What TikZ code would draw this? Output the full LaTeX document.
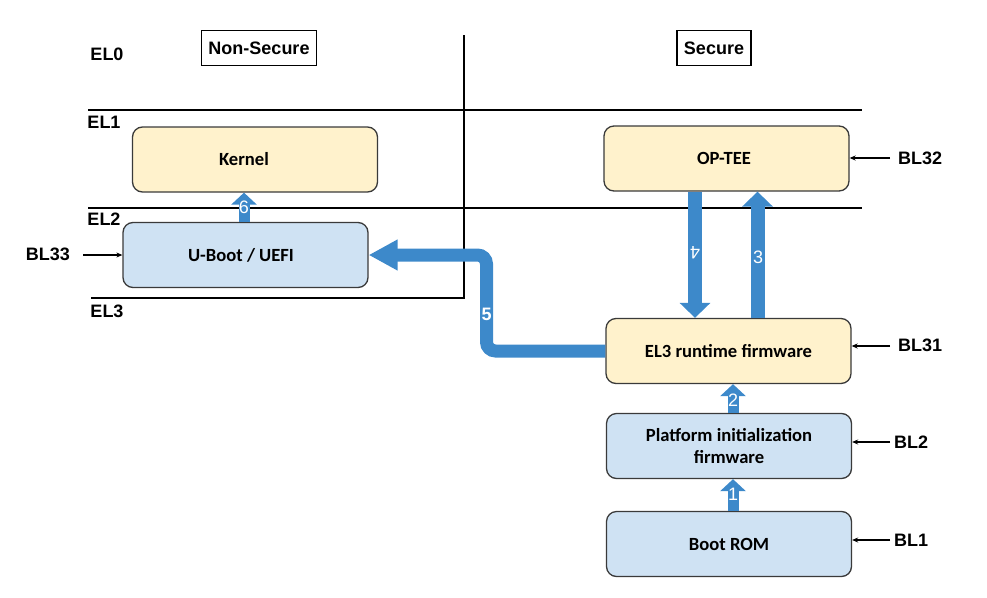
\documentclass[tikz,border=0pt]{standalone}
\usepackage{fontspec}
\setmainfont{Liberation Sans}
\newfontfamily\boxfont{Carlito}
\usetikzlibrary{arrows.meta}
\definecolor{boxyellow}{HTML}{FFF2CC}
\definecolor{boxblue}{HTML}{CFE2F3}
\definecolor{arrowblue}{HTML}{3D89CA}
\definecolor{boxline}{HTML}{3A3A3A}
\tikzset{
  blk/.style={draw=boxline, line width=1.3pt, rounded corners=10pt, minimum width=245pt, minimum height=65pt, inner sep=0pt, align=center, font=\boxfont\bfseries\fontsize{18.6}{22}\selectfont, text=black},
  ybox/.style={blk, fill=boxyellow},
  bbox/.style={blk, fill=boxblue},
  lvl/.style={font=\bfseries\fontsize{18}{21}\selectfont, inner sep=0pt},
  elline/.style={line width=2.6pt, black},
  thin/.style={line width=1.2pt, -{Stealth[length=6pt,width=5pt]}},
  bigarrow/.style={line width=14pt, arrowblue, -{Triangle[length=15pt,width=30pt]}},
  smallarrow/.style={line width=11pt, arrowblue, -{Triangle[length=12pt,width=25pt]}},
  num/.style={text=white, font=\fontsize{18}{21}\selectfont, inner sep=0pt},
  title/.style={draw, line width=1.5pt, font=\bfseries\fontsize{18}{21}\selectfont, inner xsep=7pt, inner ysep=0pt, minimum height=35pt}
}
\begin{document}
\begin{tikzpicture}[x=1pt,y=-1pt]
\useasboundingbox (0,0) rectangle (987,597);
% level lines
\draw[elline] (88,110) -- (862,110);
\draw[elline] (88,208) -- (862,208);
\draw[elline] (91,298) -- (464,298) -- (464,35);
% level labels
\node[lvl] (el0) at (107,54) {EL0};
\node[lvl] (el1) at (104,122) {EL1};
\node[lvl] (el2) at (104,219) {EL2};
\node[lvl] (el3) at (107,311) {EL3};
% titles
\node[title] (ns) at (259,48) {Non-Secure};
\node[title] (sec) at (714,48) {Secure};
% boxes
\node[ybox] (kernel) at (255,159.5) {\hspace*{-22pt}Kernel};
\node[bbox] (uboot) at (245.5,255) {\hspace*{-9pt}U-Boot / UEFI};
\node[ybox] (optee) at (726.5,158.5) {\hspace*{-5pt}OP-TEE};
\node[ybox] (rt) at (728.5,351) {EL3 runtime firmware};
\node[bbox] (plat) at (729,446) {Platform initialization\\firmware};
\node[bbox] (rom) at (729,544) {Boot ROM};
% BL labels
\node[lvl] (bl33) at (48,254) {BL33};
\node[lvl] (bl32) at (920,158) {BL32};
\node[lvl] (bl31) at (920,345) {BL31};
\node[lvl] (bl2) at (911,442) {BL2};
\node[lvl] (bl1) at (911,540) {BL1};
\coordinate (c33) at (83,255);
\coordinate (c32) at (890,158);
\coordinate (c31) at (890,346);
\coordinate (c2) at (890,442);
\coordinate (c1) at (890,540);
\draw[thin] (c33) -- (c33 -| uboot.west);
\draw[thin] (c32) -- (c32 -| optee.east);
\draw[thin] (c31) -- (c31 -| rt.east);
\draw[thin] (c2) -- (c2 -| plat.east);
\draw[thin] (c1) -- (c1 -| rom.east);
% blue arrows
\coordinate (x6) at (244,0);
\coordinate (x4) at (695,0);
\coordinate (x3) at (757.5,0);
\coordinate (x12) at (733,0);
\coordinate (x5) at (486.5,255);
\draw[smallarrow] (uboot.north -| x6) -- (kernel.south -| x6);
\draw[bigarrow] (optee.south -| x4) -- (rt.north -| x4);
\draw[bigarrow] (rt.north -| x3) -- (optee.south -| x3);
\draw[smallarrow] (plat.north -| x12) -- (rt.south -| x12);
\draw[smallarrow] (rom.north -| x12) -- (plat.south -| x12);
\draw[bigarrow, line width=13pt, -{Triangle[length=29pt,width=29pt]}, rounded corners=9pt] (rt.west) -| (x5) -- (uboot.east);
% numbers
\node[num] (n6) at (244,207) {6};
\node[num, rotate=180] (n4) at (695,253) {4};
\node[num] (n3) at (758,257) {3};
\node[num] (n2) at (733,400) {2};
\node[num] (n1) at (733,494) {1};
\node[num, font=\bfseries\fontsize{18}{21}\selectfont] (n5) at (486.5,314) {5};
\end{tikzpicture}
\end{document}
